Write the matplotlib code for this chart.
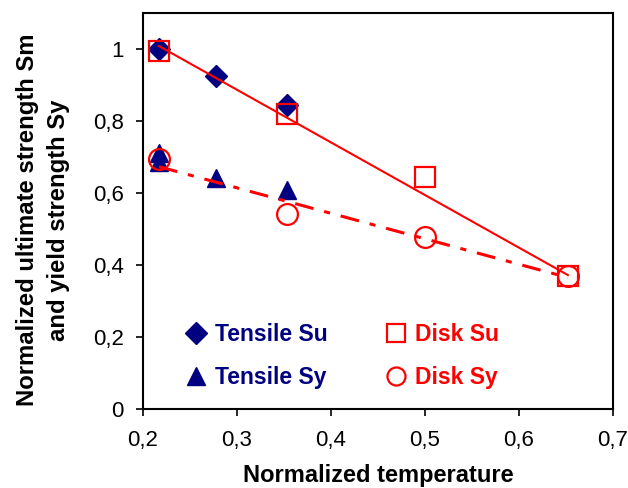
import numpy as np
import matplotlib
matplotlib.use("Agg")
import matplotlib.pyplot as plt
from matplotlib.lines import Line2D

plt.rcParams['font.family'] = ['Liberation Sans', 'DejaVu Sans']

# data
tensile_su_x = [0.217, 0.278, 0.353]
tensile_su_y = [1.0, 0.925, 0.844]
tensile_sy_x = [0.217, 0.217, 0.278, 0.353]
tensile_sy_y = [0.712, 0.687, 0.641, 0.608]
disk_su_x = [0.217, 0.353, 0.5, 0.652]
disk_su_y = [0.995, 0.819, 0.644, 0.37]
disk_sy_x = [0.217, 0.353, 0.5, 0.652]
disk_sy_y = [0.694, 0.541, 0.477, 0.369]
# trend lines (end points)
trend_x = [0.217, 0.652]
su_trend = [1.008, 0.372]
sy_trend = [0.673, 0.365]

xticks = [0.2, 0.3, 0.4, 0.5, 0.6, 0.7]
yticks = [0, 0.2, 0.4, 0.6, 0.8, 1.0]
series_names = ['Tensile Su', 'Tensile Sy', 'Disk Su', 'Disk Sy']

navy = '#000080'
red = '#ff0000'

fig = plt.figure(figsize=(6.28, 4.88), dpi=100)
ax = fig.add_axes([0.2277, 0.162, 0.7484, 0.8114])

ax.plot(tensile_su_x, tensile_su_y, 'D', color=navy, ms=11, ls='none', zorder=3)
ax.plot(tensile_sy_x, tensile_sy_y, '^', color=navy, ms=13.5, ls='none', zorder=3)
ax.plot(disk_su_x, disk_su_y, 's', mfc='none', mec=red, mew=1.6, ms=15, ls='none', zorder=4)
ax.plot(disk_sy_x, disk_sy_y, 'o', mfc='none', mec=red, mew=1.6, ms=15, ls='none', zorder=4)

ax.plot(trend_x, su_trend, '-', color=red, lw=1.5, zorder=5)
ax.plot(trend_x, sy_trend, color=red, lw=2.2, dashes=(6.2, 3.6, 2.0, 3.6), zorder=5)

ax.set_xlim(0.2, 0.7)
ax.set_ylim(0, 1.1)
ax.set_xticks(xticks)
ax.set_yticks(yticks)
ax.set_xticklabels([('%g' % v).replace('.', ',') for v in xticks])
ax.set_yticklabels([('%g' % v).replace('.', ',') for v in yticks])
ax.tick_params(direction='out', length=5, width=1.2, labelsize=16)
ax.tick_params(axis='x', pad=10)
ax.tick_params(axis='y', pad=9)
for s in ax.spines.values():
    s.set_linewidth(1.5)

ax.set_xlabel('Normalized temperature', fontsize=17, fontweight='bold')
ax.xaxis.set_label_coords(0.501, -0.139)
ax.set_ylabel('Normalized ultimate strength Sm\nand yield strength Sy', fontsize=17.2,
              fontweight='bold', linespacing=1.46)
ax.yaxis.set_label_coords(-0.155, 0.477)

handles = [
    Line2D([], [], marker='D', color=navy, ms=11, ls='none'),
    Line2D([], [], marker='^', color=navy, ms=13, ls='none'),
    Line2D([], [], marker='s', mfc='none', mec=red, mew=1.6, ms=13, ls='none'),
    Line2D([], [], marker='o', mfc='none', mec=red, mew=1.6, ms=13, ls='none'),
]
leg = ax.legend(handles, series_names, ncol=2, loc='center', bbox_to_anchor=(0.423, 0.134),
                frameon=False, handlelength=1.0, handletextpad=0.33, columnspacing=2.47,
                labelspacing=0.9, prop={'weight': 'bold', 'size': 16.5})
for txt, c in zip(leg.get_texts(), [navy, navy, red, red]):
    txt.set_color(c)

fig.savefig('out.png', dpi=100)
